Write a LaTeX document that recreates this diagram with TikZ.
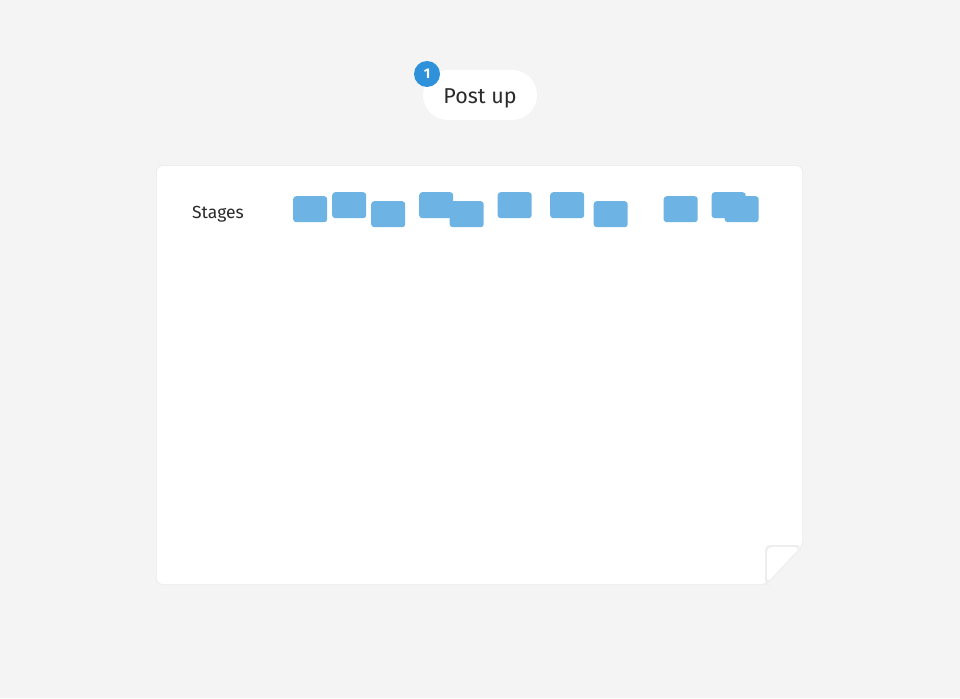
\documentclass[tikz,border=0pt]{standalone}
\usepackage{fontspec}
\setmainfont{Fira Sans}
\usepackage{tikz}
\usetikzlibrary{positioning}
\definecolor{fondo}{HTML}{F4F4F4}
\definecolor{sombra}{HTML}{EEEEEE}
\definecolor{notaazul}{HTML}{6DB4E4}
\definecolor{insignia}{HTML}{2F91DA}
\definecolor{texto}{HTML}{2A2A2A}

\begin{document}
\begin{tikzpicture}[x=1pt, y=-1pt,
    nota/.style={fill=notaazul, draw=none, rounded corners=3pt, minimum width=34pt, minimum height=26pt, inner sep=0pt, anchor=north west},
    pildora/.style={fill=white, rounded corners=25pt, minimum width=114pt, minimum height=50pt, text height=21pt, text depth=4.5pt, text=texto, font=\fontsize{21.5}{24}\selectfont}]
        % Fondo
        \fill[fondo] (0,0) rectangle (960,698);
        \useasboundingbox (0,0) rectangle (960,698);
        % Titulo
        \node[pildora] (titulo) at (480,95) {Post up};
        \node[circle, fill=insignia, minimum size=26pt, inner sep=0pt, text=white, font=\bfseries\fontsize{14}{16}\selectfont] (paso) at (427,74) {1};
        % Hoja (sombra y hoja)
        \draw[sombra, line width=2pt, rounded corners=6pt] (157,166) -- (802,166) -- (802,546) -- (766,584) -- (157,584) -- cycle;
        \fill[white, rounded corners=6pt] (157,166) -- (802,166) -- (802,546) -- (766,584) -- (157,584) -- cycle;
        % Esquina doblada
        \fill[sombra, rounded corners=5pt] (765,545) -- (802,545) -- (766,585) -- (765,585) -- cycle;
        \fill[white, rounded corners=5pt] (767,547) -- (800,547) -- (767,583) -- cycle;
        % Etiqueta de fila
        \node[anchor=west, text=texto, font=\fontsize{17.5}{20}\selectfont, inner sep=0pt] (etapas) at (192,214) {Stages};
        %######## Notas #############
        \node[nota] (n1) at (293,196) {};
        \node[nota] (n2) at (332,192) {};
        \node[nota] (n3) at (371,201) {};
        \node[nota] (n4) at (419,192) {};
        \node[nota] (n5) at (449.5,201) {};
        \node[nota] (n6) at (497.5,192) {};
        \node[nota] (n7) at (550,192) {};
        \node[nota] (n8) at (593.5,201) {};
        \node[nota] (n9) at (663.5,196) {};
        \node[nota] (n10) at (711.5,192) {};
        \node[nota] (n11) at (724.5,196) {};
    \end{tikzpicture}
\end{document}
